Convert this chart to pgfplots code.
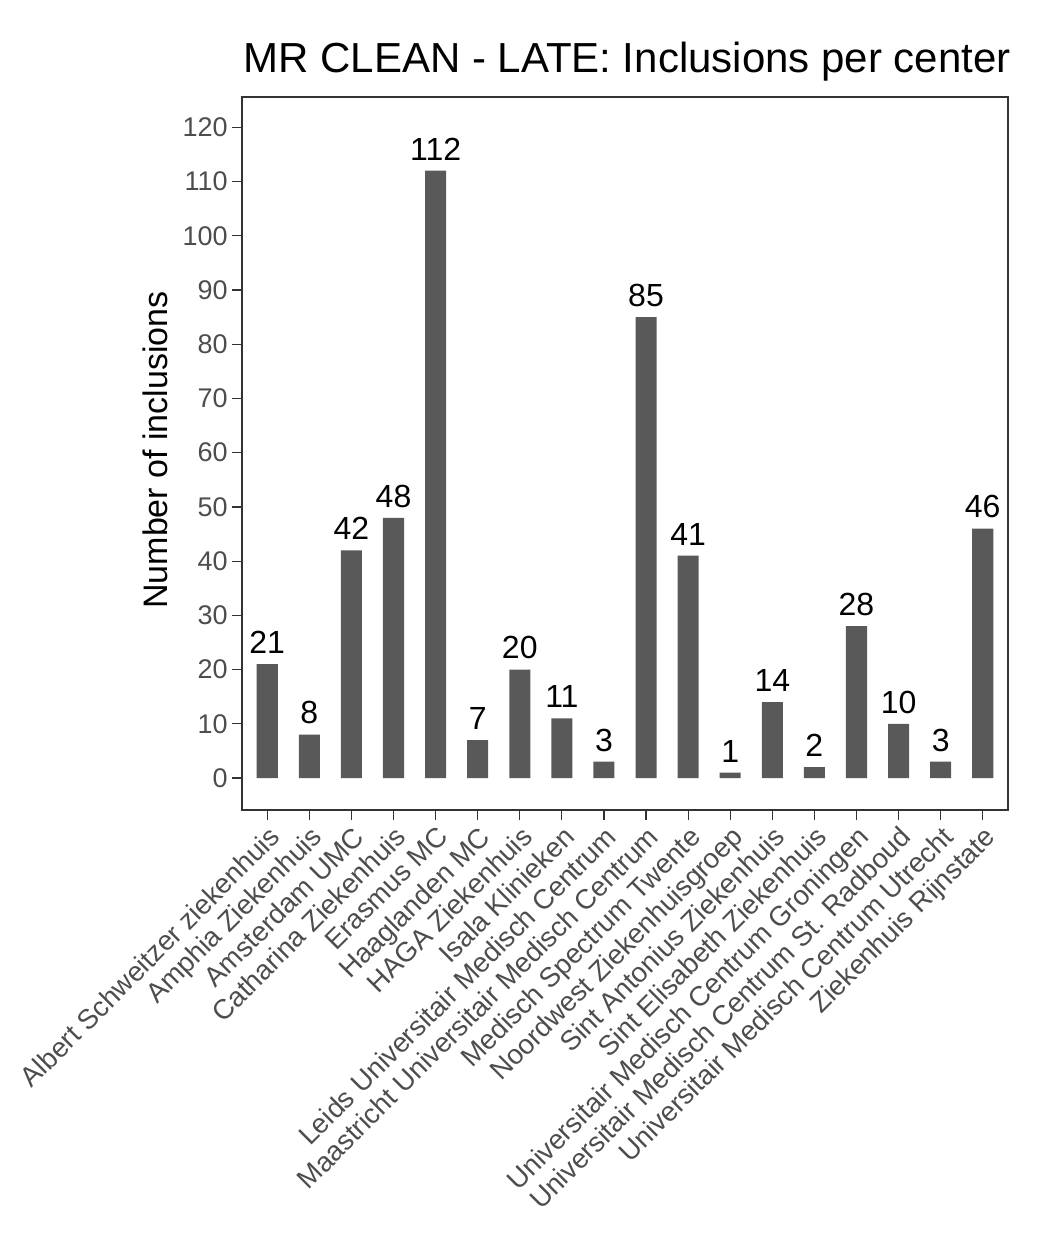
\documentclass[border=0pt]{standalone}
\usepackage{fontspec}
\setmainfont{Liberation Sans}
\usepackage{pgfplots}
\pgfplotsset{compat=1.18}
\definecolor{grey20}{HTML}{333333}
\definecolor{grey30}{HTML}{4D4D4D}
\definecolor{barfill}{HTML}{595959}
\begin{document}
\begin{tikzpicture}
\useasboundingbox (0,0) rectangle (525pt,630pt);
\begin{axis}[
  at={(121pt,225pt)}, anchor=south west,
  scale only axis,
  width=383pt, height=356.5pt,
  xmin=-0.6, xmax=17.6,
  ymin=-5.9, ymax=125.6,
  axis line style={grey20, line width=0.6pt},
  tick style={grey20, line width=0.6pt},
  tick align=outside,
  major tick length=5pt,
  xtick=data,
  xticklabels={Albert Schweitzer ziekenhuis, Amphia Ziekenhuis, Amsterdam UMC, Catharina Ziekenhuis, Erasmus MC, Haaglanden MC, HAGA Ziekenhuis, Isala Klinieken, Leids Universitair Medisch Centrum, Maastricht Universitair Medisch Centrum, Medisch Spectrum Twente, Noordwest Ziekenhuisgroep, Sint Antonius Ziekenhuis, Sint Elisabeth Ziekenhuis, Universitair Medisch Centrum Groningen, Universitair Medisch Centrum St. Radboud, Universitair Medisch Centrum Utrecht, Ziekenhuis Rijnstate},
  xticklabel style={rotate=45, anchor=north east, font=\fontsize{13.8}{15}\selectfont, text=grey30, inner sep=1.5pt},
  ytick={0,10,...,120},
  yticklabel style={font=\fontsize{13.5}{15}\selectfont, text=grey30, inner sep=2pt},
  /pgf/number format/assume math mode=true,
  xtick pos=bottom, ytick pos=left,
  nodes near coords,
  every node near coord/.append style={font=\fontsize{16}{18}\selectfont, text=black, anchor=south, inner sep=0pt, yshift=5pt},
  clip=false,
]
\addplot[ybar, bar width=0.5, fill=barfill, draw=none] coordinates {
(0,21) (1,8) (2,42) (3,48) (4,112) (5,7) (6,20) (7,11) (8,3) (9,85) (10,41) (11,1) (12,14) (13,2) (14,28) (15,10) (16,3) (17,46)
};
\end{axis}
\node[anchor=base west, inner sep=0pt, font=\fontsize{21}{24}\selectfont] at (121.5pt,593.5pt) {MR CLEAN - LATE: Inclusions per center};
\node[rotate=90, inner sep=0pt, font=\fontsize{17}{19}\selectfont] at (77.5pt,405pt) {Number of inclusions};
\end{tikzpicture}
\end{document}
